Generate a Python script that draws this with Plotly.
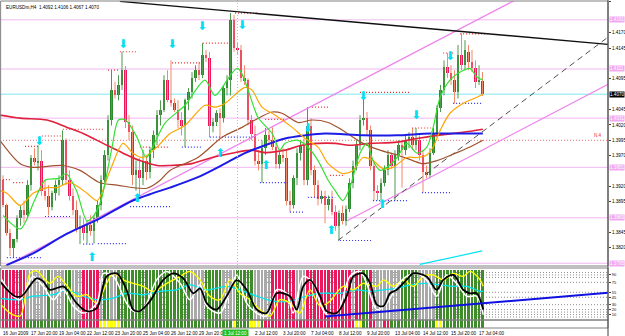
import plotly.graph_objects as go

W, H = 625, 336
def py(y):
    return 1 - y / H

title_text = "EURUSDm,H4  1.4092 1.4106 1.4067 1.4070"

opens = [1.3930,1.3889,1.3845,1.3819,1.3835,1.3868,1.3881,1.3873,1.3922,1.3966,
 1.3959,1.3962,1.3913,1.3905,1.3886,1.3910,1.3922,1.3930,1.3995,1.3930,
 1.3905,1.3881,1.3851,1.3856,1.3845,1.3858,1.3848,1.3868,1.3889,1.3930,
 1.3971,1.4028,1.4077,1.4068,1.4085,1.4109,1.4024,1.4008,1.3938,1.3946,
 1.3933,1.3962,1.3943,1.3979,1.4003,1.4036,1.4044,1.4093,1.4060,1.4055,
 1.4044,1.4028,1.4019,1.4060,1.4073,1.4096,1.4109,1.4101,1.4134,1.4129,
 1.4019,1.4024,1.4039,1.4031,1.4080,1.4093,1.4191,1.4145,1.4142,1.4096,
 1.4093,1.4028,1.4006,1.3962,1.3957,1.3982,1.4003,1.3995,1.3984,1.3957,
 1.3971,1.3966,1.3897,1.3889,1.3933,1.3975,1.3987,1.3930,1.4019,1.3946,
 1.3922,1.3900,1.3905,1.3889,1.3900,1.3878,1.3856,1.3876,1.3864,1.3884,
 1.3926,1.3954,1.3987,1.4028,1.4032,1.4011,1.3954,1.3913,1.3909,1.3926,
 1.3946,1.3971,1.3954,1.3971,1.3987,1.3979,1.3995,1.4000,1.3987,1.3995,
 1.3971,1.3943,1.3938,1.3975,1.4006,1.4047,1.4077,1.4114,1.4104,1.4093,
 1.4073,1.4134,1.4117,1.4139,1.4122,1.4112,1.4090,1.4092]
highs = [1.3938,1.3892,1.3851,1.3824,1.3873,1.3889,1.3897,1.3930,1.3971,1.3982,
 1.3987,1.3979,1.3930,1.3922,1.3913,1.3930,1.3938,1.4011,1.3998,1.3946,
 1.3917,1.3897,1.3873,1.3868,1.3864,1.3873,1.3873,1.3897,1.3938,1.3979,
 1.4036,1.4109,1.4090,1.4101,1.4139,1.4116,1.4036,1.4019,1.3962,1.3966,
 1.3979,1.3971,1.3984,1.4011,1.4044,1.4060,1.4101,1.4109,1.4125,1.4063,
 1.4060,1.4041,1.4063,1.4080,1.4106,1.4117,1.4122,1.4153,1.4142,1.4139,
 1.4031,1.4044,1.4047,1.4085,1.4101,1.4202,1.4199,1.4155,1.4150,1.4117,
 1.4096,1.4036,1.4019,1.3979,1.3995,1.4015,1.4011,1.4016,1.3995,1.3979,
 1.3982,1.3979,1.3913,1.3938,1.3982,1.3995,1.3998,1.4049,1.4031,1.3954,
 1.3930,1.3913,1.3913,1.3905,1.3913,1.3889,1.3881,1.3889,1.3889,1.3933,
 1.3962,1.3995,1.4036,1.4073,1.4041,1.4019,1.3962,1.3922,1.3933,1.3954,
 1.3979,1.3975,1.3979,1.3995,1.3995,1.4003,1.4008,1.4015,1.4015,1.4003,
 1.3979,1.3954,1.3982,1.4015,1.4052,1.4085,1.4125,1.4137,1.4117,1.4109,
 1.4150,1.4169,1.4158,1.4150,1.4142,1.4125,1.4117,1.4106]
lows = [1.3886,1.3840,1.3807,1.3804,1.3829,1.3856,1.3861,1.3868,1.3913,1.3954,
 1.3946,1.3905,1.3897,1.3873,1.3881,1.3897,1.3905,1.3922,1.3922,1.3897,
 1.3873,1.3845,1.3826,1.3832,1.3827,1.3840,1.3827,1.3861,1.3881,1.3926,
 1.3962,1.4019,1.4063,1.4060,1.4077,1.4015,1.3995,1.3922,1.3913,1.3905,
 1.3922,1.3930,1.3933,1.3966,1.3987,1.4019,1.4041,1.4057,1.4050,1.4041,
 1.4015,1.4003,1.3984,1.4044,1.4063,1.4090,1.4093,1.4096,1.4122,1.4000,
 1.4008,1.4018,1.4000,1.4024,1.4068,1.4068,1.4139,1.4134,1.4090,1.4085,
 1.4019,1.3995,1.3954,1.3946,1.3926,1.3971,1.3987,1.3979,1.3949,1.3949,
 1.3959,1.3889,1.3878,1.3884,1.3922,1.3962,1.3922,1.3922,1.3938,1.3902,
 1.3889,1.3892,1.3860,1.3881,1.3873,1.3848,1.3832,1.3858,1.3856,1.3878,
 1.3917,1.3946,1.3979,1.4019,1.4003,1.3946,1.3897,1.3897,1.3897,1.3920,
 1.3938,1.3949,1.3897,1.3962,1.3918,1.3971,1.3982,1.3979,1.3979,1.3962,
 1.3910,1.3933,1.3933,1.3971,1.4000,1.4041,1.4068,1.4096,1.4085,1.4055,
 1.4063,1.4109,1.4109,1.4109,1.4106,1.4080,1.4085,1.4067]
closes = [1.3889,1.3845,1.3819,1.3835,1.3868,1.3881,1.3873,1.3922,1.3966,1.3959,
 1.3962,1.3913,1.3905,1.3886,1.3910,1.3922,1.3930,1.3995,1.3930,1.3905,
 1.3881,1.3851,1.3856,1.3845,1.3858,1.3848,1.3868,1.3889,1.3930,1.3971,
 1.4028,1.4077,1.4068,1.4085,1.4109,1.4024,1.4008,1.3938,1.3946,1.3933,
 1.3962,1.3943,1.3979,1.4003,1.4036,1.4044,1.4093,1.4060,1.4055,1.4044,
 1.4028,1.4019,1.4060,1.4073,1.4096,1.4109,1.4101,1.4134,1.4129,1.4019,
 1.4024,1.4039,1.4031,1.4080,1.4093,1.4191,1.4145,1.4142,1.4096,1.4093,
 1.4028,1.4006,1.3962,1.3957,1.3982,1.4003,1.3995,1.3984,1.3957,1.3971,
 1.3966,1.3897,1.3889,1.3933,1.3975,1.3987,1.3930,1.4019,1.3946,1.3922,
 1.3900,1.3905,1.3889,1.3900,1.3878,1.3856,1.3876,1.3864,1.3884,1.3926,
 1.3954,1.3987,1.4028,1.4032,1.4011,1.3954,1.3913,1.3909,1.3926,1.3946,
 1.3971,1.3954,1.3971,1.3987,1.3979,1.3995,1.4000,1.3987,1.3995,1.3971,
 1.3943,1.3938,1.3975,1.4006,1.4047,1.4077,1.4114,1.4104,1.4093,1.4073,
 1.4134,1.4117,1.4142,1.4122,1.4112,1.4090,1.4093,1.4070]

# moving averages (bar position, price)
green_x = [0,5,9,12,16,18,21,24,26,28,31,33,35,38,41,43,46.3,52,57.7,60.6,67,72.9,76.9,79.1,80.6,84.3,87.1,90,92.9,94.9,97.1,99.1,102,104,105.7,107.7,109.7,112.6,115.4,118.3,121.1,122.9,124.9,127.7,130.6,133.4,135.4,137.1]
green_y = [1.3873,1.3851,1.3897,1.3930,1.3933,1.3941,1.3913,1.3864,1.3873,1.3897,1.3979,1.4028,1.4028,1.4003,1.3967,1.3987,1.4023,1.4052,1.4093,1.4068,1.4112,1.4032,1.4006,1.3979,1.3990,1.3995,1.3984,1.3962,1.3930,1.3913,1.3897,1.3918,1.3974,1.3990,1.3962,1.3946,1.3951,1.3967,1.3990,1.3974,1.3984,1.4016,1.4065,1.4093,1.4106,1.4112,1.4098,1.4093]
orange_x = [-0.9,1.1,4.9,8.6,12.6,15.4,19.1,24,26.9,30.6,34.3,37.1,40,44,47.7,52,57.7,60.6,63.4,69.1,71.1,74,77.7,82.6,86.3,90,92.9,97.1,100,102.9,105.7,108.6,111.4,115.4,118.3,121.1,122.9,124.9,127.7,131.4,135.4,137.1]
orange_y = [1.3913,1.3909,1.3889,1.3909,1.3918,1.3918,1.3926,1.3909,1.3897,1.3946,1.3990,1.3974,1.3967,1.3984,1.4006,1.4019,1.4052,1.4049,1.4055,1.4081,1.4077,1.4049,1.4036,1.4016,1.3998,1.3984,1.3957,1.3941,1.3946,1.3967,1.3962,1.3949,1.3951,1.3967,1.3967,1.3971,1.3984,1.4011,1.4039,1.4055,1.4065,1.4070]
brown_x = [-0.9,4.9,8.6,17.1,22,27.7,32.6,41.1,44.9,47.7,55.7,62.6,68.3,72,76.9,79.7,84.3,88.3,92.9,97.1,102.9,107.7,112.6,117.1,120,124,129.7,133.4,137.1]
brown_y = [1.3995,1.3957,1.3951,1.3954,1.3946,1.3926,1.3922,1.3917,1.3930,1.3946,1.3967,1.4000,1.4016,1.4028,1.4041,1.4039,1.4024,1.4028,1.4024,1.4011,1.3990,1.3979,1.3971,1.3962,1.3957,1.3962,1.3975,1.3984,1.3995]
red_x = [-0.9,4.9,12.6,18.3,22.9,28.6,34.3,39.1,44,47.7,54,59.7,65.4,71.1,74.9,80.6,85.4,90,94.9,99.1,104.9,112.6,118.3,124,131.4,137.1]
red_y = [1.4036,1.4031,1.4028,1.4016,1.4006,1.3990,1.3974,1.3962,1.3954,1.3954,1.3957,1.3967,1.3974,1.3979,1.3975,1.3979,1.3987,1.3990,1.3990,1.3987,1.3990,1.3992,1.3998,1.4003,1.4008,1.4013]
blue_x = [1,8.6,18.3,27.7,37.1,42.9,47.7,55.7,63.4,69.1,74.9,80.6,86.3,92,102.9,112.6,122,131.4,137.1]
blue_y = [1.3792,1.3811,1.3843,1.3868,1.3897,1.3909,1.3918,1.3935,1.3957,1.3974,1.3987,1.3998,1.4003,1.4006,1.4003,1.4003,1.4006,1.4006,1.4006]

# trend lines (bar position, price)
black_tl_x = [33.4, 172.9]; black_tl_y = [1.4221, 1.4151]
gray_tl_x = [95.7, 172.9];  gray_tl_y = [1.3832, 1.4163]
pink_up_x = [-0.9, 146.3];  pink_up_y = [1.3786, 1.4223]
pink_lo_x = [98.3, 172.9];  pink_lo_y = [1.3864, 1.4086]
cyan_tl_x = [119.1, 136.9]; cyan_tl_y = [1.3793, 1.3815]

pink_levels = [1.4191, 1.4111, 1.4031, 1.3951, 1.3869, 1.3795]
cyan_level = 1.4070
red_level = 1.3995
vline_bar = 67

# fractal marks
red_seg_x0 = [33.4,30,-0.9,2.9,6.3,11.1,17.1,39.1,66.3,57.1,48.3,74.9,88.3,102,116.9,125.7,130.6,93.4]
red_seg_x1 = [38.3,32.9,2.6,5.7,10,16.9,28.6,47.7,72.9,64.3,56.3,80.6,93.4,116.3,122.6,129.1,137.7,97.1]
red_seg_p = [1.4139,1.4109,1.3931,1.3926,1.3985,1.4002,1.4013,1.3984,1.4202,1.4153,1.4121,1.4029,1.4049,1.4073,1.4015,1.4137,1.4168,1.3938]
blue_seg_x0 = [1.1,12,22.9,27.1,36.3,51.1,59.1,73.4,82,87.1,96.3,105.7,119.7,128.6]
blue_seg_x1 = [11.4,19.7,26.3,35.4,47.7,57.1,72,81.4,86.3,94.9,105.4,115.4,128.3,137.1]
blue_seg_p = [1.3804,1.3871,1.3826,1.3827,1.3887,1.3984,1.4000,1.3926,1.3878,1.3902,1.3832,1.3897,1.3910,1.4055]

arrow_dn_x = [10.3,34.3,48.3,56.9,68.3,87.1,102.9,118,127.7]
arrow_dn_p = [1.3992,1.4150,1.4150,1.4179,1.4181,1.4013,1.4065,1.4034,1.4130]
arrow_up_x = [25.4,38.3,62,75.1,93.7,108.3]
arrow_up_p = [1.3804,1.3899,1.3972,1.3953,1.3848,1.3890]

price_ticks = ["1.4220","1.4195","1.4170","1.4145","1.4120","1.4095","1.4070","1.4045","1.4020",
               "1.3995","1.3970","1.3945","1.3920","1.3895","1.3870","1.3845","1.3820","1.3795"]

time_labels = ["16 Jun 2009","17 Jun 20:00","19 Jun 04:00","22 Jun 12:00","23 Jun 20:00","25 Jun 04:00",
               "26 Jun 12:00","29 Jun 20:00","1 Jul 04:00","2 Jul 12:00","3 Jul 20:00","7 Jul 04:00",
               "8 Jul 12:00","9 Jul 20:00","13 Jul 04:00","14 Jul 12:00","15 Jul 20:00","17 Jul 04:00"]
time_label_bars = [0,8,16,24,32,40,48,56,64,72,80,88,96,104,112,120,128,136]
vline_label = "1 Jul 12:00"

# indicator
bg_codes = ("RRRRRRR" "KKKKKK" "G" "KKKK" "GG" "KKK" "RRRRR" "K" "GG" "KK" "GGGGGGGGGGGGGGGGGGGGG"
            "KKKK" "GGGGG" "KKKK" "GGGGG" "KKKKK" "RRRRRRR" "KKK" "RRRRRRRRRRRRR" "K" "RR" "GG" "R"
            "KKKKKKKK" "GGGGG" "KKKKK" "GGGGGGGGGGGGGG")
strip_codes = ("RRRRRRR" "GGGGGGGGGGGGGGG" "RRRRRR" "YYYYYY" "GGGGGGGGGGGGGGGGGGGGGGGGGGGGGGGG" "Y" "GGGG"
               "YYY" "G" "RRRRRRRRRRRRRRRRRRRRRRRRRR" "YY" "GG" "RR" "KK" "RR" "GGGGGGGGGGGGG" "YY" "GGGGGGGGGGGG")
black_x = [-0.9,3.4,5.3,9.6,11.5,13.4,17.2,18.7,21,23.9,26.8,29.6,32.5,35.3,37.2,39.1,42,45.8,48.7,51.5,54.4,56.3,58.2,61,63.9,66.8,69.6,72.5,75.3,78.2,82,83.9,85.8,87.7,90.6,92.5,95.3,98.2,100.1,102.9,104.9,106.8,108.7,110.6,112.5,115.3,117.2,121,123.9,125.8,128.7,131.5,133.4,135.3,137.2]
black_v = [77,47,47,83,77,60,67,57,33,17,23,87,93,60,20,17,37,80,93,83,53,63,33,20,47,80,60,20,13,53,47,20,67,80,47,17,13,47,87,93,73,30,27,53,60,80,93,87,60,80,90,60,53,53,20]
white_x = [-0.9,2.9,4.9,8.6,11.5,14.4,17.2,20.1,23,26.8,28.7,31.5,35.3,37.2,40,43.9,46.8,50.6,53.4,56.3,58.2,62,64.9,66.8,69.6,72.5,75.3,78.2,81,82.9,85.8,88.6,90.6,92.5,95.3,99.1,102,103.9,106.8,109.7,112.5,115.3,118.1,121,123.9,126.7,129.6,132.5,135.3,137.2]
white_v = [87,47,40,87,67,40,60,27,13,33,93,87,33,17,20,80,97,73,40,70,27,13,60,90,33,13,7,60,53,13,87,73,33,10,10,87,97,73,20,33,67,87,93,80,47,90,73,47,47,10]
yellow_x = [-0.9,2,4.9,7.7,9.6,13.4,15.7,18.1,21,23.9,26.8,29.6,31.5,34.3,37.2,40,42.9,46.8,50.6,53.4,56.3,59.1,62,64.9,67.7,70.6,73.4,76.3,79.1,82,84.8,87.7,90.6,93.4,97.2,100.1,102.9,106.8,108.7,111.6,114.4,117.2,120.1,122.9,125.8,128.7,131.5,133.4,136.3,137.2]
yellow_v = [33,13,7,93,98,73,87,70,47,50,33,73,93,80,73,67,57,73,87,97,80,47,40,80,53,40,20,7,40,33,13,60,27,37,67,60,73,67,80,67,80,67,87,90,80,93,87,97,80,67]
cyan_x = [-0.9,4.9,8.6,14.4,18.1,22.9,26.8,31.5,35.3,40,44.9,49.6,53.4,58.2,63.9,67.7,72.5,77.2,82,86.7,90.6,96.3,101,104.9,108.7,112.5,116.3,121,124.8,128.6,132.5,136.3,137.2]
cyan_v = [43,40,47,50,60,47,40,43,53,50,57,60,70,60,67,60,47,37,37,47,53,53,60,57,60,63,70,73,70,67,67,57,57]
ind_tl_x = [92, 172.9]; ind_tl_v = [6, 54]
ind_levels = [95, 90, 85, 75, 55, 45, 30, 20, 15, 10, 5]
ind_tick_levels = [90, 75, 55, 45, 30, 20, 10]

# ---------------- figure ----------------
n = len(opens)
bars = list(range(n))
XR = [-3 / 3.5, (608 - 3) / 3.5]
XD = [0, 608 / W]
FONT = "Liberation Sans, Arial, sans-serif"
FS = 4.6

fig = go.Figure()

BG = {"R": "#E8195C", "G": "#3F8D2A", "K": "#A9A9A9", "Y": "#FFFF00"}
fig.add_trace(go.Bar(x=bars, y=[100] * n, base=0, width=0.72, yaxis="y2",
                     marker=dict(color=[BG[c] for c in bg_codes], line=dict(width=0)), hoverinfo="skip"))
fig.add_trace(go.Bar(x=bars, y=[1] * n, base=0, width=0.8, yaxis="y3",
                     marker=dict(color=[BG[c] for c in strip_codes], line=dict(width=0)), hoverinfo="skip"))

def seg(xs0, xs1, ys0, ys1):
    X, Y = [], []
    for a, b, c, d in zip(xs0, xs1, ys0, ys1):
        X += [a, b, None]; Y += [c, d, None]
    return X, Y

up = [i for i in bars if closes[i] >= opens[i]]
dn = [i for i in bars if closes[i] < opens[i]]
for idx, col in ((up, "#4E9A4E"), (dn, "#F08A6A")):
    X, Y = seg([bars[i] for i in idx], [bars[i] for i in idx], [lows[i] for i in idx], [highs[i] for i in idx])
    fig.add_trace(go.Scatter(x=X, y=Y, mode="lines", line=dict(color=col, width=1), hoverinfo="skip"))
for idx, col in ((up, "#2C8A2C"), (dn, "#EE1659")):
    fig.add_trace(go.Bar(x=[bars[i] for i in idx],
                         y=[max(abs(closes[i] - opens[i]), 0.00012) for i in idx],
                         base=[min(opens[i], closes[i]) for i in idx],
                         width=0.78, marker=dict(color=col, line=dict(width=0)), hoverinfo="skip"))

X, Y = seg(red_seg_x0, red_seg_x1, red_seg_p, red_seg_p)
fig.add_trace(go.Scatter(x=X, y=Y, mode="lines", line=dict(color="#F03030", width=1.2, dash="1px,2px"), hoverinfo="skip"))
X, Y = seg(blue_seg_x0, blue_seg_x1, blue_seg_p, blue_seg_p)
fig.add_trace(go.Scatter(x=X, y=Y, mode="lines", line=dict(color="#3434F0", width=1.2, dash="1px,2px"), hoverinfo="skip"))

fig.add_trace(go.Scatter(x=pink_up_x, y=pink_up_y, mode="lines", line=dict(color="#EE82EE", width=1.2), hoverinfo="skip"))
fig.add_trace(go.Scatter(x=pink_lo_x, y=pink_lo_y, mode="lines", line=dict(color="#EE82EE", width=1.2), hoverinfo="skip"))
fig.add_trace(go.Scatter(x=gray_tl_x, y=gray_tl_y, mode="lines", line=dict(color="#505050", width=1, dash="6px,4px"), hoverinfo="skip"))
fig.add_trace(go.Scatter(x=black_tl_x, y=black_tl_y, mode="lines", line=dict(color="#101010", width=1.4), hoverinfo="skip"))
fig.add_trace(go.Scatter(x=cyan_tl_x, y=cyan_tl_y, mode="lines", line=dict(color="#00E5EE", width=1.2), hoverinfo="skip"))

for xs, ys, col, w in ((red_x, red_y, "#E0203C", 1.6), (brown_x, brown_y, "#A0522D", 1.2),
                       (blue_x, blue_y, "#1C1CE6", 2.0), (orange_x, orange_y, "#FFA500", 1.2),
                       (green_x, green_y, "#33E033", 1.2)):
    fig.add_trace(go.Scatter(x=xs, y=ys, mode="lines", line=dict(color=col, width=w, shape="spline", smoothing=0.8),
                             hoverinfo="skip"))

fig.add_trace(go.Scatter(x=arrow_dn_x, y=arrow_dn_p, mode="text", text=["\u2b07"] * len(arrow_dn_x),
                         textfont=dict(color="#00E0F0", size=12, family="DejaVu Sans"), hoverinfo="skip"))
fig.add_trace(go.Scatter(x=arrow_up_x, y=arrow_up_p, mode="text", text=["\u2b06"] * len(arrow_up_x),
                         textfont=dict(color="#00E0F0", size=12, family="DejaVu Sans"), hoverinfo="skip"))

for xs, vs, col, w in ((cyan_x, cyan_v, "#00E5EE", 1.3), (yellow_x, yellow_v, "#FFFF00", 1.3),
                       (white_x, white_v, "#FFFFFF", 1.5), (black_x, black_v, "#000000", 1.8)):
    fig.add_trace(go.Scatter(x=xs, y=vs, yaxis="y2", mode="lines",
                             line=dict(color=col, width=w, shape="spline", smoothing=0.9), hoverinfo="skip"))
fig.add_trace(go.Scatter(x=ind_tl_x, y=ind_tl_v, yaxis="y2", mode="lines", line=dict(color="#1010E0", width=2),
                         hoverinfo="skip"))

shapes = []
for p in pink_levels:
    shapes.append(dict(type="line", xref="paper", yref="y", x0=0, x1=XD[1], y0=p, y1=p,
                       line=dict(color="#F2B8F2", width=1), layer="below"))
shapes.append(dict(type="line", xref="paper", yref="y", x0=0, x1=XD[1], y0=cyan_level, y1=cyan_level,
                   line=dict(color="#7FE8F0", width=1), layer="below"))
shapes.append(dict(type="line", xref="paper", yref="y", x0=0, x1=XD[1], y0=red_level, y1=red_level,
                   line=dict(color="#F07070", width=1, dash="1px,2px"), layer="below"))
for lv in ind_levels:
    shapes.append(dict(type="line", xref="paper", yref="y2", x0=0, x1=XD[1], y0=lv, y1=lv,
                       line=dict(color="#909090", width=1, dash="1px,2px"), layer="below"))
shapes.append(dict(type="line", xref="x", yref="paper", x0=vline_bar, x1=vline_bar, y0=py(328), y1=py(0),
                   line=dict(color="#90E090", width=1, dash="1px,2px")))
for (t, b) in ((1, 266), (268, 320), (320, 328)):
    shapes.append(dict(type="rect", xref="paper", yref="paper", x0=0.001, x1=XD[1], y0=py(b), y1=py(t),
                       line=dict(color="#808080", width=1)))
shapes.append(dict(type="line", xref="paper", yref="paper", x0=XD[1], x1=XD[1], y0=0, y1=1,
                   line=dict(color="#404040", width=1)))

covered = [t for t in price_ticks if any(abs(float(t) - p) < 0.0009 for p in pink_levels + [cyan_level])]
shown_ticks = [t for t in price_ticks if t not in covered]

ann = []
ann.append(dict(text=title_text, xref="paper", yref="paper", x=0.006, y=py(3), xanchor="left", yanchor="top",
                showarrow=False, font=dict(size=FS, color="#000000", family=FONT)))
for lab, b in zip(time_labels, time_label_bars):
    if b == 64:   # hidden under the vertical-line time box
        continue
    ann.append(dict(text=lab, xref="x", yref="paper", x=b - 0.5, y=py(329), xanchor="left", yanchor="top",
                    showarrow=False, font=dict(size=FS, color="#000000", family=FONT)))
ann.append(dict(text=vline_label, xref="x", yref="paper", x=vline_bar - 0.5, y=py(328.5), xanchor="center",
                yanchor="top", showarrow=False, bgcolor="#22C022", borderpad=1,
                font=dict(size=FS, color="#FFFFFF", family=FONT)))
for p in pink_levels:
    ann.append(dict(text=f"{p:.4f}", xref="paper", yref="y", x=XD[1] + 0.002, y=p, xanchor="left", yanchor="middle",
                    showarrow=False, bgcolor="#F0A8F0", borderpad=0, font=dict(size=FS, color="#FFFFFF", family=FONT)))
ann.append(dict(text=f"{cyan_level:.4f}", xref="paper", yref="y", x=XD[1] + 0.002, y=cyan_level, xanchor="left",
                yanchor="middle", showarrow=False, bgcolor="#000000", borderpad=0,
                font=dict(size=FS, color="#FFFFFF", family=FONT)))
ann.append(dict(text="N.4", xref="paper", yref="y", x=XD[1] - 0.006, y=red_level, xanchor="right", yanchor="bottom",
                showarrow=False, font=dict(size=FS, color="#F03030", family=FONT)))

fig.update_layout(
    width=W, height=H, margin=dict(l=0, r=0, t=0, b=0),
    paper_bgcolor="#FFFFFF", plot_bgcolor="#FFFFFF",
    showlegend=False, barmode="overlay", bargap=0, hovermode=False,
    xaxis=dict(domain=XD, range=XR, showgrid=False, zeroline=False, showticklabels=False, showline=False,
               ticks="", fixedrange=True, anchor="y"),
    yaxis=dict(domain=[py(266), py(1)], range=[1.37905, 1.42216], side="right",
               tickvals=[float(t) for t in shown_ticks], ticktext=shown_ticks,
               tickfont=dict(size=FS, family=FONT, color="#000000"),
               ticks="outside", ticklen=2, tickcolor="#404040", showgrid=False, zeroline=False, showline=False,
               automargin=False, anchor="x"),
    yaxis2=dict(domain=[py(320), py(268)], range=[-1, 104], side="right", anchor="x",
                tickvals=ind_tick_levels, ticktext=[str(v) for v in ind_tick_levels],
                tickfont=dict(size=4, family=FONT, color="#000000"),
                ticks="outside", ticklen=2, showgrid=False, zeroline=False, showline=False, automargin=False),
    yaxis3=dict(domain=[py(328), py(320)], range=[0, 1], anchor="x", showticklabels=False, ticks="",
                showgrid=False, zeroline=False, showline=False),
    shapes=shapes, annotations=ann,
)

fig.write_html("out.html")
